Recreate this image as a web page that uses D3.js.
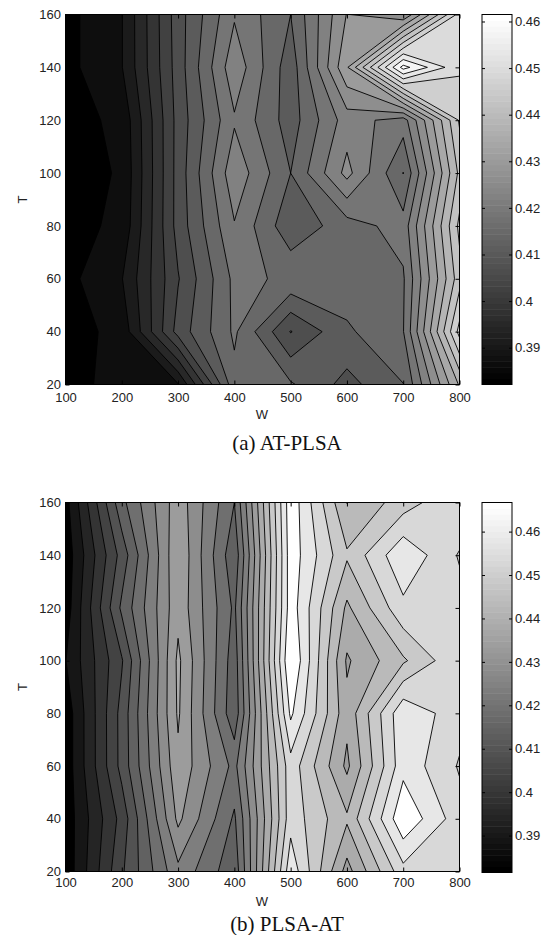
<!DOCTYPE html>
<html>
<head>
<meta charset="utf-8">
<script src="https://cdn.jsdelivr.net/npm/d3@7"></script>
<style>
	html, body { margin: 0; padding: 0; background: #fff; }
	svg { display: block; }
	.tick text, .axis-title { font-family: "Liberation Sans", Arial, sans-serif; font-size: 13px; fill: #222; }
	.caption { font-family: "Liberation Serif", "Times New Roman", serif; font-size: 21px; fill: #111; }
	.domain { display: none; }
	.tick line { stroke: #000; }
</style>
</head>
<body>
<div id="content"></div>
<script>
let W_VALUES = [100, 200, 300, 400, 500, 600, 700, 800]
let T_VALUES = [20, 40, 60, 80, 100, 120, 140, 160]

// rows go from T = 20 up to T = 160
let AT_PLSA = [
	[.3822, .3858, .3877, .4147, .4125, .4066, .4119, .4365],
	[.3822, .3853, .4056, .4167, .4038, .4113, .4158, .4494],
	[.3827, .3878, .4037, .4170, .4153, .4145, .4155, .4424],
	[.3825, .3849, .4056, .4197, .4091, .4142, .4176, .4450],
	[.3822, .3844, .4056, .4228, .4120, .4253, .4119, .4410],
	[.3825, .3849, .4055, .4195, .4100, .4220, .4180, .4445],
	[.3827, .3878, .4059, .4228, .4095, .4315, .4615, .4487],
	[.3827, .3878, .4062, .4195, .4120, .4282, .4242, .4495],
]
let PLSA_AT = [
	[.3815, .4042, .4237, .4115, .4585, .4330, .4533, .4520],
	[.3818, .4018, .4312, .4142, .4530, .4408, .4642, .4520],
	[.3818, .4067, .4338, .4185, .4530, .4339, .4584, .4495],
	[.3818, .4068, .4357, .4115, .4610, .4365, .4590, .4520],
	[.3848, .4045, .4361, .4122, .4654, .4343, .4442, .4544],
	[.3822, .4110, .4335, .4140, .4628, .4390, .4537, .4520],
	[.3818, .4070, .4345, .4113, .4630, .4457, .4591, .4495],
	[.3831, .4135, .4330, .4150, .4635, .4399, .4475, .4548],
]

let LEVELS_A = [.384, .388, .392, .396, .400, .404, .408, .412, .416, .420, .424, .428, .432, .436, .440, .444, .448, .452, .456, .460]
let LEVELS_B = [.385, .390, .395, .400, .405, .410, .415, .420, .425, .430, .435, .440, .445, .450, .455, .460]
let RANGE_A = [.3821, .4615]
let RANGE_B = [.3815, .4667]

let W_TICKS = [100, 200, 300, 400, 500, 600, 700, 800]
let T_TICKS = [20, 40, 60, 80, 100, 120, 140, 160]
let BAR_TICKS = [.39, .40, .41, .42, .43, .44, .45, .46]

let PLOT_LEFT = 65.5
let PLOT_RIGHT = 459.5
let BAR_LEFT = 482
let BAR_RIGHT = 512
let TICK = 4

let svg = d3.select('#content').append('svg')
	.attr('width', 550)
	.attr('height', 935)

function drawPanel(panel) {
	let g = svg.append('g')
	let x = d3.scaleLinear().domain([100, 800]).range([PLOT_LEFT, PLOT_RIGHT])
	let y = d3.scaleLinear().domain([20, 160]).range([panel.bottom, panel.top])
	let gray = d3.scaleLinear().domain(panel.range).range([0, 255]).clamp(true)
	let color = (v) => { let c = Math.round(gray(v)); return `rgb(${c},${c},${c})` }

	let clip_id = `clip-${panel.id}`
	g.append('clipPath').attr('id', clip_id)
		.append('rect')
		.attr('x', PLOT_LEFT)
		.attr('y', panel.top)
		.attr('width', PLOT_RIGHT - PLOT_LEFT)
		.attr('height', panel.bottom - panel.top)

	// d3.contours puts grid value i at coordinate i + 0.5
	let project = d3.geoTransform({
		point(cx, cy) {
			let w = W_VALUES[0] + (cx - 0.5) * (W_VALUES[1] - W_VALUES[0])
			let t = T_VALUES[0] + (cy - 0.5) * (T_VALUES[1] - T_VALUES[0])
			this.stream.point(x(w), y(t))
		}
	})
	let path = d3.geoPath(project)

	// contoured negated: d3 keeps the lows apart at a saddle, as the original does
	let descending = panel.levels.slice().reverse()
	let contours = d3.contours()
		.size([W_VALUES.length, T_VALUES.length])
		.thresholds(descending.map((l) => { return -l }))(panel.values.flat().map((v) => { return -v }))

	let plot = g.append('g').attr('clip-path', `url(#${clip_id})`)
	plot.append('rect')
		.attr('x', PLOT_LEFT)
		.attr('y', panel.top)
		.attr('width', PLOT_RIGHT - PLOT_LEFT)
		.attr('height', panel.bottom - panel.top)
		.attr('fill', '#fff')

	plot.selectAll('path.band')
		.data(contours)
		.enter().append('path')
		.attr('class', 'band')
		.attr('d', path)
		.attr('fill', (d) => {
			let upper = -d.value
			let i = panel.levels.indexOf(upper)
			if (i === 0) return '#000'
			let lower = panel.levels[i - 1]
			return color(lower + (upper - lower) * panel.band_pos)
		})
		.attr('stroke', '#000')
		.attr('stroke-width', 0.9)
		.attr('stroke-linejoin', 'miter')

	g.append('g')
		.attr('transform', `translate(0,${panel.bottom})`)
		.call(d3.axisBottom(x).tickValues(W_TICKS).tickSize(-TICK).tickPadding(panel.x_pad))
	g.append('g')
		.attr('transform', `translate(0,${panel.top})`)
		.call(d3.axisTop(x).tickValues(W_TICKS).tickSize(-TICK).tickFormat(''))
	g.append('g')
		.attr('transform', `translate(${PLOT_LEFT},0)`)
		.call(d3.axisLeft(y).tickValues(T_TICKS).tickSize(-TICK).tickPadding(4.5))
	g.append('g')
		.attr('transform', `translate(${PLOT_RIGHT},0)`)
		.call(d3.axisRight(y).tickValues(T_TICKS).tickSize(-TICK).tickFormat(''))

	g.append('rect')
		.attr('x', PLOT_LEFT)
		.attr('y', panel.top)
		.attr('width', PLOT_RIGHT - PLOT_LEFT)
		.attr('height', panel.bottom - panel.top)
		.attr('fill', 'none')
		.attr('stroke', '#000')

	g.append('text')
		.attr('class', 'axis-title')
		.attr('x', 262)
		.attr('y', panel.bottom + panel.w_offset)
		.attr('text-anchor', 'middle')
		.text('W')
	g.append('text')
		.attr('class', 'axis-title')
		.attr('transform', `translate(${panel.t_x},${(panel.top + panel.bottom) / 2}) rotate(-90)`)
		.attr('text-anchor', 'middle')
		.text('T')

	g.append('text')
		.attr('class', 'caption')
		.attr('x', panel.caption_x)
		.attr('y', panel.caption_y)
		.attr('text-anchor', 'middle')
		.text(panel.caption)

	drawBar(g, panel)
}

function drawBar(g, panel) {
	let bar_y = d3.scaleLinear().domain(panel.range).range([panel.bar_bottom, panel.bar_top])
	let steps = d3.range(64)
	let step_h = (panel.bar_bottom - panel.bar_top) / steps.length

	g.append('g').selectAll('rect')
		.data(steps)
		.enter().append('rect')
		.attr('x', BAR_LEFT)
		.attr('y', (d) => { return panel.bar_bottom - (d + 1) * step_h })
		.attr('width', BAR_RIGHT - BAR_LEFT)
		.attr('height', step_h + 0.5)
		.attr('fill', (d) => { let c = Math.round(d / 63 * 255); return `rgb(${c},${c},${c})` })

	g.append('g')
		.attr('transform', `translate(${BAR_RIGHT},0)`)
		.call(d3.axisRight(bar_y).tickValues(BAR_TICKS).tickSize(-3).tickPadding(3)
			.tickFormat(d3.format('.2~f')))
	g.append('g')
		.attr('transform', `translate(${BAR_LEFT},0)`)
		.call(d3.axisLeft(bar_y).tickValues(BAR_TICKS).tickSize(-3).tickFormat(''))

	g.append('rect')
		.attr('x', BAR_LEFT)
		.attr('y', panel.bar_top)
		.attr('width', BAR_RIGHT - BAR_LEFT)
		.attr('height', panel.bar_bottom - panel.bar_top)
		.attr('fill', 'none')
		.attr('stroke', '#000')
}

drawPanel({
	id: 'a', values: AT_PLSA, levels: LEVELS_A, range: RANGE_A, band_pos: 0.6,
	top: 14.5, bottom: 384.5, bar_top: 14.5, bar_bottom: 384.5,
	x_pad: 8, w_offset: 34.5, t_x: 27, caption: '(a) AT-PLSA', caption_x: 287, caption_y: 450,
})
drawPanel({
	id: 'b', values: PLSA_AT, levels: LEVELS_B, range: RANGE_B, band_pos: 0.75,
	top: 502.5, bottom: 871.5, bar_top: 502.5, bar_bottom: 872.5,
	x_pad: 6, w_offset: 34, t_x: 27, caption: '(b) PLSA-AT', caption_x: 287, caption_y: 931,
})
</script>
</body>
</html>
